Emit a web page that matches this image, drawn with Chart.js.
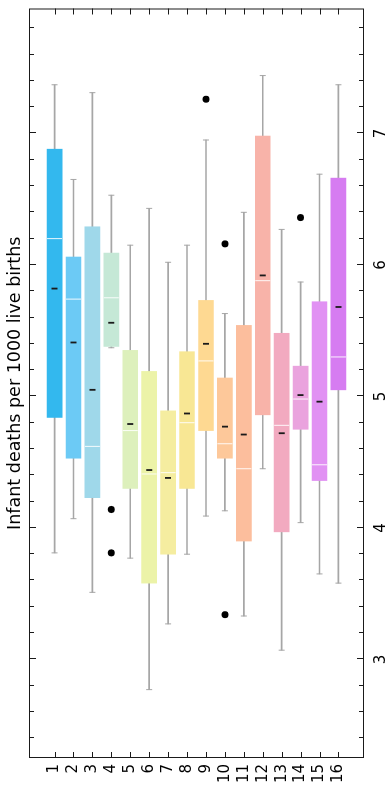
<!DOCTYPE html>
<html>
<head>
<meta charset="utf-8">
<script src="https://cdn.jsdelivr.net/npm/chart.js@4.4.1/dist/chart.umd.min.js"></script>
<style>
  html, body { margin: 0; padding: 0; background: #fff; overflow: hidden; }
  /* chart is laid out as a horizontal box plot, then turned a quarter left */
  #wrap {
    position: absolute; left: 0; top: 0;
    width: 794px; height: 388px;
    transform-origin: 0 0;
    transform: translateY(794px) rotate(-90deg);
  }
</style>
</head>
<body>
<div id="wrap"><canvas id="box-chart" width="794" height="388"></canvas></div>
<script>
const categories = [1, 2, 3, 4, 5, 6, 7, 8, 9, 10, 11, 12, 13, 14, 15, 16];
const whiskerLow  = [3.81, 4.07, 3.51, 5.37, 3.77, 2.77, 3.27, 3.80, 4.09, 4.13, 3.33, 4.45, 3.07, 4.04, 3.65, 3.58];
const q1          = [4.84, 4.53, 4.23, 5.38, 4.30, 3.58, 3.80, 4.30, 4.74, 4.53, 3.90, 4.86, 3.97, 4.75, 4.36, 5.05];
const medians     = [6.20, 5.74, 4.62, 5.75, 4.74, 4.41, 4.42, 4.80, 5.27, 4.64, 4.45, 5.88, 4.78, 4.98, 4.48, 5.30];
const means       = [5.82, 5.41, 5.05, 5.56, 4.79, 4.44, 4.38, 4.87, 5.40, 4.77, 4.71, 5.92, 4.72, 5.01, 4.96, 5.68];
const q3          = [6.88, 6.06, 6.29, 6.09, 5.35, 5.19, 4.89, 5.34, 5.73, 5.14, 5.54, 6.98, 5.48, 5.23, 5.72, 6.66];
const whiskerHigh = [7.37, 6.65, 7.31, 6.53, 6.15, 6.43, 6.02, 6.15, 6.95, 5.63, 6.40, 7.44, 6.27, 5.87, 6.69, 7.37];
const outlierCats   = [4, 4, 9, 10, 10, 14];
const outlierValues = [4.14, 3.81, 7.26, 6.16, 3.34, 6.36];
const boxColors = ["#33b8ee", "#6ccaf5", "#9fd8ea", "#c5e8d6", "#ddf0bc", "#ecf3a8", "#f5eda0", "#f8e794",
                   "#fed992", "#fdc89a", "#fcbe9d", "#f8b3a9", "#f2aac0", "#eaa3de", "#e191f3", "#d67cf1"];
const valueTicks = [3, 4, 5, 6, 7];
const titleText = "Infant deaths per 1000 live births";

const FONT = "'DejaVu Sans', sans-serif";
const WHISKER = "#a6a6a6";

// minor ticks every 0.2 along the value axis
const minorTicks = [];
for (let v = 2.4; v < 7.9; v += 0.2) {
  const r = Math.round(v * 10) / 10;
  if (!valueTicks.includes(r)) minorTicks.push(r);
}

// frame with inward tick marks on all four sides
const framePlugin = {
  id: "frame",
  afterDatasetsDraw(chart) {
    const { ctx, chartArea: a, scales: { x, y } } = chart;
    ctx.save();
    ctx.strokeStyle = "#1a1a1a";
    ctx.lineWidth = 1;
    ctx.strokeRect(a.left + 0.5, a.top + 0.5, a.right - a.left - 1, a.bottom - a.top - 1);
    ctx.beginPath();
    const vTick = (v, len) => {
      const px = Math.round(x.getPixelForValue(v)) + 0.5;
      ctx.moveTo(px, a.bottom); ctx.lineTo(px, a.bottom - len);
      ctx.moveTo(px, a.top); ctx.lineTo(px, a.top + len);
    };
    valueTicks.forEach(v => vTick(v, 7));
    minorTicks.forEach(v => vTick(v, 5));
    categories.forEach(c => {
      const py = Math.round(y.getPixelForValue(c)) + 0.5;
      ctx.moveTo(a.left, py); ctx.lineTo(a.left + 6, py);
      ctx.moveTo(a.right, py); ctx.lineTo(a.right - 6, py);
    });
    ctx.stroke();
    ctx.restore();
  }
};

const pts = (vals) => categories.map((c, i) => ({ x: vals[i], y: c }));
const lineMark = { type: "scatter", pointStyle: "line", pointRotation: 90, pointHoverRadius: 0 };

new Chart(document.getElementById("box-chart"), {
  type: "bar",
  data: {
    datasets: [
      {
        label: "whiskers",
        data: categories.map((c, i) => ({ y: c, x: [whiskerLow[i], whiskerHigh[i]] })),
        backgroundColor: WHISKER,
        barThickness: 1,
        grouped: false,
        order: 6,
      },
      {
        label: "boxes",
        data: categories.map((c, i) => ({ y: c, x: [q1[i], q3[i]] })),
        backgroundColor: boxColors,
        barThickness: 15,
        grouped: false,
        order: 5,
      },
      {
        ...lineMark,
        label: "caps",
        data: pts(whiskerLow).concat(pts(whiskerHigh)),
        pointRadius: 3,
        pointBorderColor: WHISKER,
        pointBorderWidth: 1,
        order: 4,
      },
      {
        ...lineMark,
        label: "median",
        data: pts(medians),
        pointRadius: 7.5,
        pointBorderColor: "rgba(255,255,255,0.9)",
        pointBorderWidth: 1,
        order: 3,
      },
      {
        ...lineMark,
        label: "mean",
        data: pts(means),
        pointRadius: 3,
        pointBorderColor: "#1a1a1a",
        pointBorderWidth: 1.8,
        order: 2,
      },
      {
        type: "scatter",
        label: "outliers",
        data: outlierCats.map((c, i) => ({ x: outlierValues[i], y: c })),
        pointStyle: "circle",
        pointRadius: 3.5,
        pointBackgroundColor: "#000",
        pointBorderWidth: 0,
        order: 1,
      },
    ],
  },
  options: {
    indexAxis: "y",
    responsive: false,
    animation: false,
    events: [],
    layout: { padding: { left: 0, right: 3, top: 0, bottom: 0 } },
    plugins: {
      legend: { display: false },
      tooltip: { enabled: false },
      title: {
        display: true,
        text: titleText,
        color: "#000",
        fullSize: false,
        font: { family: FONT, size: 17.5, weight: "normal", lineHeight: 1.2 },
        padding: { top: 5, bottom: 3 },
      },
    },
    scales: {
      x: {
        type: "linear",
        position: "bottom",
        min: 2.25,
        max: 7.95,
        offset: false,
        grid: { display: false, drawTicks: false, offset: false },
        border: { display: false },
        afterBuildTicks: (axis) => { axis.ticks = valueTicks.map(v => ({ value: v })); },
        afterFit: (axis) => { axis.height = 24; axis.paddingLeft = 0; axis.paddingRight = 0; },
        ticks: { color: "#000", padding: 8, maxRotation: 0, autoSkip: false, font: { family: FONT, size: 15 } },
      },
      y: {
        type: "linear",
        position: "left",
        reverse: true,
        min: -0.35,
        max: 17.35,
        offset: false,
        grid: { display: false, drawTicks: false, offset: false },
        border: { display: false },
        afterBuildTicks: (axis) => { axis.ticks = categories.map(c => ({ value: c })); },
        afterFit: (axis) => { axis.width = 36; axis.paddingTop = 0; axis.paddingBottom = 0; },
        ticks: { color: "#000", padding: 6, autoSkip: false, font: { family: FONT, size: 15 } },
      },
    },
  },
  plugins: [framePlugin],
});
</script>
</body>
</html>
